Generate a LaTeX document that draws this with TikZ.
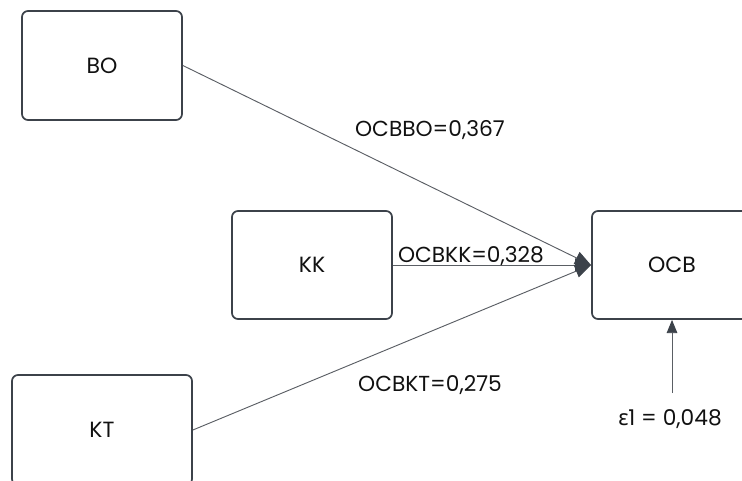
\documentclass[tikz,border=0pt]{standalone}
\usepackage{fontspec}
\setmainfont{Poppins}
\newfontfamily\grkfont{Noto Sans}
\usetikzlibrary{arrows.meta}
\definecolor{boxc}{HTML}{3C424A}
\definecolor{linec}{HTML}{5A5E64}
\definecolor{txtc}{HTML}{111111}
\tikzset{
  varbox/.style={draw=boxc, line width=1.3pt, rounded corners=4.5pt, fill=white,
    minimum width=#1, inner sep=0pt, font=\fontsize{16.5pt}{19pt}\selectfont, text=txtc},
  conn/.style={draw=linec, line width=0.7pt, arrows={-{Triangle[length=12pt,width=10pt,color=boxc]}}},
  connv/.style={draw=linec, line width=0.7pt, arrows={-{Triangle[length=10pt,width=8pt,color=boxc]}}},
  lbl/.style={font=\fontsize{16.3pt}{19pt}\selectfont, text=txtc, inner sep=0pt}
}
\begin{document}
\begin{tikzpicture}[x=0.75pt,y=-0.75pt]
\useasboundingbox (0,0) rectangle (742,480);
\clip (0,0) rectangle (742,480);
\node[varbox=120pt, minimum height=81.75pt] (BO) at (102,65.5) {BO};
\node[varbox=120pt, minimum height=81pt] (KK) at (312,265) {KK};
\node[varbox=120pt, minimum height=81pt] (OCB) at (672,265) {OCB};
\node[varbox=135pt, minimum height=82.5pt] (KT) at (102,430) {KT};
\coordinate (tip) at (591,265);
\coordinate (eps) at (672,393);
\draw[conn] (BO.east) -- (tip);
\draw[conn] (KK.east) -- (tip);
\draw[conn] (KT.east) -- (tip);
\draw[connv] (eps) -- (OCB.south);
\node[lbl] (l1) at (430,130) {OCBBO=0,367};
\node[lbl] (l2) at (471,256) {OCBKK=0,328};
\node[lbl] (l3) at (430,385) {OCBKT=0,275};
\node[lbl] (l4) at (670,419) {{\grkfont ε}1 = 0,048};
\end{tikzpicture}
\end{document}
